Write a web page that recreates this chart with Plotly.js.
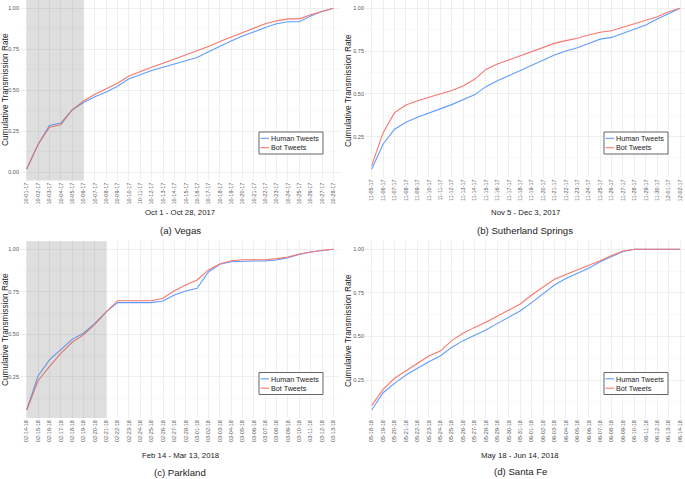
<!DOCTYPE html>
<html><head><meta charset="utf-8">
<script src="https://cdn.plot.ly/plotly-3.0.1.min.js"></script>
<style>html,body{margin:0;padding:0;background:#fff}#chart{width:685px;height:479px}</style>
</head><body><div id="chart"></div>
<script>
// ---------- DATA ----------
const vegasDates = ['10-01-17','10-02-17','10-03-17','10-04-17','10-05-17','10-06-17','10-07-17','10-08-17','10-09-17','10-10-17','10-11-17','10-12-17','10-13-17','10-14-17','10-15-17','10-16-17','10-17-17','10-18-17','10-19-17','10-20-17','10-21-17','10-22-17','10-23-17','10-24-17','10-25-17','10-26-17','10-27-17','10-28-17'];
const vegasHuman = [0.02,0.17,0.285,0.30,0.38,0.425,0.46,0.49,0.525,0.57,0.595,0.62,0.64,0.66,0.68,0.70,0.735,0.77,0.80,0.83,0.858,0.882,0.905,0.917,0.917,0.953,0.98,1.0];
const vegasBot   = [0.02,0.17,0.275,0.29,0.38,0.435,0.475,0.508,0.543,0.587,0.616,0.64,0.665,0.69,0.715,0.74,0.766,0.797,0.823,0.852,0.878,0.905,0.923,0.935,0.935,0.96,0.98,1.0];
const vegasShade = ['10-01-17','10-06-17'];

const suthDates = ['11-05-17','11-06-17','11-07-17','11-08-17','11-09-17','11-10-17','11-11-17','11-12-17','11-13-17','11-14-17','11-15-17','11-16-17','11-17-17','11-18-17','11-19-17','11-20-17','11-21-17','11-22-17','11-23-17','11-24-17','11-25-17','11-26-17','11-27-17','11-28-17','11-29-17','11-30-17','12-01-17','12-02-17'];
const suthHuman = [0.059,0.207,0.293,0.334,0.363,0.386,0.412,0.437,0.464,0.494,0.542,0.577,0.606,0.636,0.667,0.698,0.727,0.75,0.77,0.795,0.82,0.83,0.854,0.879,0.903,0.938,0.971,1.0];
const suthBot   = [0.08,0.273,0.39,0.435,0.46,0.48,0.499,0.519,0.546,0.585,0.643,0.675,0.698,0.723,0.747,0.77,0.795,0.811,0.825,0.844,0.86,0.869,0.889,0.908,0.928,0.951,0.98,1.0];

const parkDates = ['02-14-18','02-15-18','02-16-18','02-17-18','02-18-18','02-19-18','02-20-18','02-21-18','02-22-18','02-23-18','02-24-18','02-25-18','02-26-18','02-27-18','02-28-18','03-01-18','03-02-18','03-03-18','03-04-18','03-05-18','03-06-18','03-07-18','03-08-18','03-09-18','03-10-18','03-11-18','03-12-18','03-13-18'];
const parkHuman = [0.056,0.256,0.35,0.413,0.471,0.507,0.565,0.632,0.687,0.687,0.687,0.687,0.696,0.732,0.755,0.771,0.867,0.912,0.927,0.931,0.931,0.931,0.937,0.951,0.97,0.984,0.994,1.0];
const parkBot   = [0.056,0.228,0.311,0.389,0.454,0.497,0.559,0.632,0.698,0.698,0.698,0.698,0.712,0.757,0.79,0.82,0.879,0.914,0.933,0.939,0.939,0.939,0.945,0.955,0.972,0.984,0.994,1.0];
const parkShade = ['02-14-18','02-21-18'];

const sfDates = ['05-18-18','05-19-18','05-20-18','05-21-18','05-22-18','05-23-18','05-24-18','05-25-18','05-26-18','05-27-18','05-28-18','05-29-18','05-30-18','05-31-18','06-01-18','06-02-18','06-03-18','06-04-18','06-05-18','06-06-18','06-07-18','06-08-18','06-09-18','06-10-18','06-11-18','06-12-18','06-13-18','06-14-18'];
const sfHuman = [0.078,0.177,0.231,0.279,0.317,0.355,0.388,0.437,0.476,0.508,0.537,0.575,0.61,0.646,0.694,0.747,0.795,0.833,0.862,0.891,0.929,0.958,0.987,1.0,1.0,1.0,1.0,1.0];
const sfBot   = [0.103,0.196,0.26,0.302,0.349,0.388,0.416,0.476,0.518,0.552,0.581,0.617,0.652,0.686,0.738,0.785,0.828,0.856,0.881,0.908,0.935,0.964,0.99,1.0,1.0,1.0,1.0,1.0];

const seriesNames = ['Human Tweets','Bot Tweets'];
const xTitles = ['Oct 1 - Oct 28, 2017','Nov 5 - Dec 3, 2017','Feb 14 - Mar 13, 2018','May 18 - Jun 14, 2018'];
const captions = ['(a) Vegas','(b) Sutherland Springs','(c) Parkland','(d) Santa Fe'];
const yTitle = 'Cumulative Transmission Rate';

// ---------- LAYOUT ----------
const W = 685, H = 479;
const colors = ['#619CFF', '#F8766D'];
const panels = [
  {dates: vegasDates, h: vegasHuman, b: vegasBot, shade: vegasShade, px: [20, 340], py: [0, 180.5], xr: [-0.59, 27.58], yr: [-0.05, 1.05], leg: [259, 132], yt: [5, 90], xt: [180, 212], cap: [180, 231]},
  {dates: suthDates, h: suthHuman, b: suthBot, shade: null, px: [365, 685], py: [0.3, 177.3], xr: [-0.587, 27.43], yr: [0.012, 1.047], leg: [604, 132], yt: [348, 90], xt: [525, 212], cap: [525, 231]},
  {dates: parkDates, h: parkHuman, b: parkBot, shade: parkShade, px: [20, 340], py: [241.3, 418], xr: [-0.59, 27.58], yr: [0.009, 1.047], leg: [259, 372.5], yt: [5, 330], xt: [180, 455], cap: [180, 472]},
  {dates: sfDates, h: sfHuman, b: sfBot, shade: null, px: [365, 685], py: [241.3, 418], xr: [-0.587, 27.43], yr: [0.032, 1.046], leg: [604, 372.5], yt: [348, 330], xt: [520, 455], cap: [520, 471]}
];

const traces = [];
const layout = {
  width: W, height: H,
  margin: {l: 0, r: 0, t: 0, b: 0},
  paper_bgcolor: '#fff', plot_bgcolor: '#fff',
  font: {family: 'Liberation Sans, Arial, sans-serif', color: '#222'},
  showlegend: false,
  shapes: [], annotations: []
};
const fx = v => v / W, fy = v => 1 - v / H;
const legFont = 7.2, legLine = legFont * 1.3;

panels.forEach((p, i) => {
  const n = i === 0 ? '' : String(i + 1);
  const xa = 'x' + n, ya = 'y' + n;
  [p.h, p.b].forEach((vals, k) => {
    traces.push({
      type: 'scatter', mode: 'lines', x: p.dates, y: vals,
      name: seriesNames[k], xaxis: xa, yaxis: ya,
      line: {color: colors[k], width: 1.1}
    });
  });
  layout['xaxis' + n] = {
    domain: [fx(p.px[0]), fx(p.px[1])], anchor: ya, type: 'category',
    range: p.xr, tickangle: -90, tickfont: {size: 5.5, color: '#555'},
    showgrid: true, gridcolor: '#ebebeb', gridwidth: 0.8, zeroline: false,
    showline: false, ticks: '', ticklen: 0, fixedrange: true
  };
  layout['yaxis' + n] = {
    domain: [fy(p.py[1]), fy(p.py[0])], anchor: xa,
    range: p.yr, dtick: 0.25, tick0: 0, tickformat: '.2f',
    tickfont: {size: 5.5, color: '#555'},
    showgrid: true, gridcolor: '#ebebeb', gridwidth: 0.8, zeroline: false,
    minor: {dtick: 0.25, tick0: 0.125, showgrid: true, gridcolor: '#f5f5f5', gridwidth: 0.6},
    showline: false, ticks: '', fixedrange: true
  };
  if (p.shade) {
    layout.shapes.push({
      type: 'rect', xref: xa, yref: ya + ' domain', x0: p.shade[0], x1: p.shade[1], y0: 0, y1: 1,
      fillcolor: 'rgba(128,128,128,0.26)', line: {width: 0}, layer: 'above'
    });
  }
  // compact legend box, drawn to match the ggplot legend
  const L = p.leg[0], T = p.leg[1], bw = 64, bh = 22, cy = T + bh / 2;
  layout.shapes.push({
    type: 'rect', xref: 'paper', yref: 'paper', x0: fx(L), x1: fx(L + bw), y0: fy(T + bh), y1: fy(T),
    fillcolor: '#fff', line: {color: '#555', width: 0.9}, layer: 'above'
  });
  seriesNames.forEach((nm, k) => {
    const ry = cy + (k - 0.5) * legLine;
    layout.shapes.push({
      type: 'line', xref: 'paper', yref: 'paper', x0: fx(L + 1.5), x1: fx(L + 10), y0: fy(ry), y1: fy(ry),
      line: {color: colors[k], width: 1.1}, layer: 'above'
    });
  });
  layout.annotations.push({
    text: seriesNames.join('<br>'), xref: 'paper', yref: 'paper', x: fx(L + 11), y: fy(cy),
    xanchor: 'left', yanchor: 'middle', align: 'left', borderpad: 0,
    showarrow: false, font: {size: legFont, color: '#222'}
  });
  layout.annotations.push(
    {text: yTitle, xref: 'paper', yref: 'paper', x: fx(p.yt[0]), y: fy(p.yt[1]), textangle: -90,
     showarrow: false, font: {size: 8.3, color: '#222'}, xanchor: 'center', yanchor: 'middle'},
    {text: xTitles[i], xref: 'paper', yref: 'paper', x: fx(p.xt[0]), y: fy(p.xt[1]),
     showarrow: false, font: {size: 7.8, color: '#222'}, xanchor: 'center', yanchor: 'middle'},
    {text: captions[i], xref: 'paper', yref: 'paper', x: fx(p.cap[0]), y: fy(p.cap[1]),
     showarrow: false, font: {size: 9.6, color: '#222'}, xanchor: 'center', yanchor: 'middle'}
  );
});

Plotly.newPlot('chart', traces, layout, {displayModeBar: false, staticPlot: true});
</script></body></html>
